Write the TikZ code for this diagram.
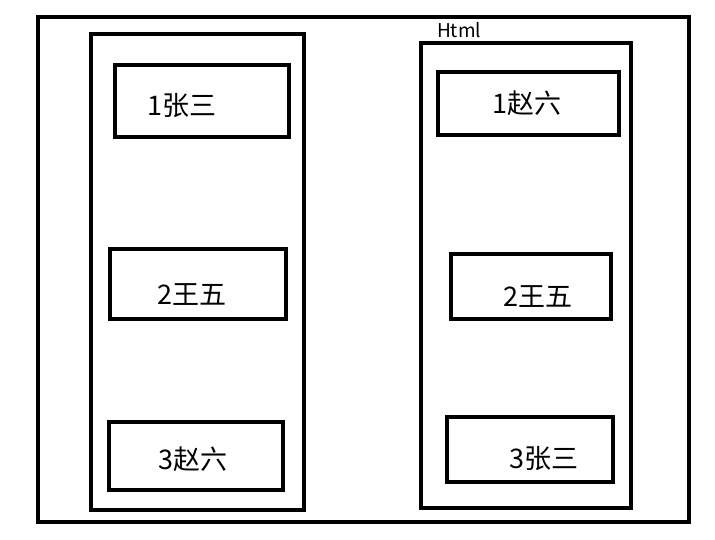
\documentclass[tikz,border=0pt]{standalone}
\usepackage{fontspec}
\newfontfamily\cjk{Noto Sans CJK SC}
\begin{document}
\begin{tikzpicture}[x=1pt,y=-1pt,
  box/.style={draw=black,line width=3.5pt},
  lbl/.style={font=\cjk\fontsize{27}{30}\selectfont,inner sep=0pt}]
\useasboundingbox[fill=white] (0,0) rectangle (715,540);
\draw[box] (38,17) rectangle (689,522);
\draw[box] (91,34) rectangle (304,510);
\draw[box] (421,43) rectangle (631,508);
\node[lbl,font=\cjk\fontsize{19}{22}\selectfont] (html) at (459,30) {Html};
\draw[box] (115,65) rectangle (289,137);
\node[lbl] (a1) at (182,106) {1张三};
\draw[box] (110,249) rectangle (286,319);
\node[lbl] (a2) at (192,295) {2王五};
\draw[box] (109,422) rectangle (283,490);
\node[lbl] (a3) at (193,459) {3赵六};
\draw[box] (438,72) rectangle (619,135);
\node[lbl] (b1) at (527,103) {1赵六};
\draw[box] (451,254) rectangle (611,319);
\node[lbl] (b2) at (538,297) {2王五};
\draw[box] (447,417) rectangle (613,482);
\node[lbl] (b3) at (544,459) {3张三};
\end{tikzpicture}
\end{document}
